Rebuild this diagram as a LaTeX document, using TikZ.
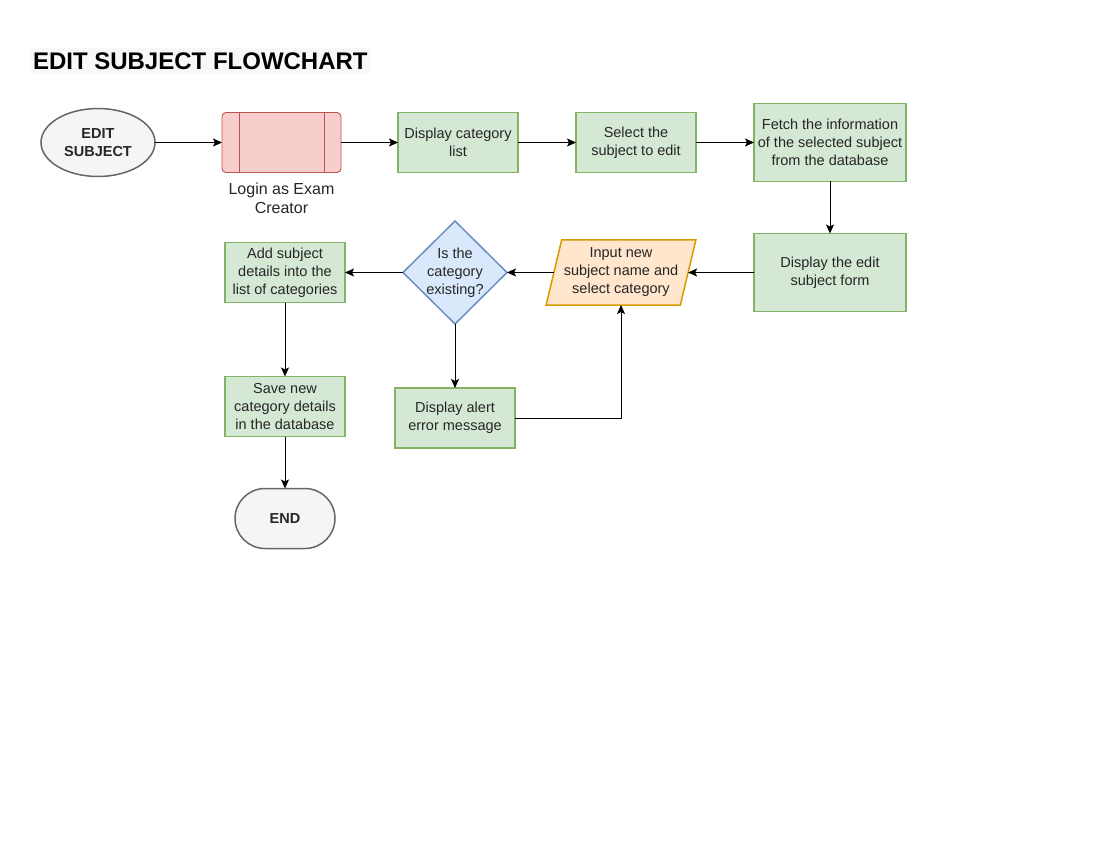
\documentclass[tikz,border=0pt]{standalone}
\usepackage{fontspec}
\setmainfont{Liberation Sans}
\usetikzlibrary{positioning,shapes.geometric,arrows.meta}

\definecolor{greenfill}{HTML}{D5E8D4}
\definecolor{greenline}{HTML}{82B366}
\definecolor{redfill}{HTML}{F8CECC}
\definecolor{redline}{HTML}{B85450}
\definecolor{orangefill}{HTML}{FFE6CC}
\definecolor{orangeline}{HTML}{D79B00}
\definecolor{bluefill}{HTML}{DAE8FC}
\definecolor{blueline}{HTML}{6C8EBF}
\definecolor{grayfill}{HTML}{F5F5F5}
\definecolor{grayline}{HTML}{666666}
\definecolor{titlefill}{HTML}{F7F8F9}

\tikzset{
  txt/.style={font=\fontsize{14.5}{18}\selectfont, text=black!85, align=center},
  terminal/.style={txt, ellipse, draw=grayline, fill=grayfill, line width=1.5pt,
    minimum width=114pt, minimum height=68pt, inner sep=0pt, font=\fontsize{14.5}{18}\selectfont\bfseries},
  endbox/.style={txt, rectangle, rounded corners=30pt, draw=grayline, fill=grayfill, line width=1.5pt,
    minimum width=100pt, minimum height=60pt, font=\fontsize{14.5}{18}\selectfont\bfseries},
  procbox/.style={txt, rectangle, draw=greenline, fill=greenfill, line width=1.5pt,
    minimum width=120pt, minimum height=60pt, inner sep=1pt},
  loginbox/.style={rectangle, rounded corners=4pt, draw=redline, fill=redfill, line width=0.9pt,
    minimum width=119pt, minimum height=60pt},
  iobox/.style={txt, trapezium, trapezium left angle=73, trapezium right angle=107,
    trapezium stretches=true, draw=orangeline, fill=orangefill, line width=1.5pt,
    minimum width=150pt, minimum height=65pt, inner sep=0pt},
  decision/.style={txt, diamond, aspect=1, draw=blueline, fill=bluefill, line width=1.5pt,
    minimum width=104pt, minimum height=103pt, inner sep=-3pt},
  arrow/.style={-{Stealth[length=9pt,width=8pt,inset=2pt]}, line width=0.9pt, black},
  every node/.style={outer sep=0pt}
}

\begin{document}
\begin{tikzpicture}[x=1pt,y=-1pt]
\useasboundingbox (0,0) rectangle (1100,850);

% title
\node (title) [anchor=west, fill=titlefill, minimum height=26pt, inner xsep=2pt,
  font=\fontsize{24}{28}\selectfont\bfseries] at (31,61) {EDIT SUBJECT FLOWCHART};

% top row
\node (start) [terminal] at (98,142.5) {EDIT\\SUBJECT};
\node (login) [loginbox, right=67pt of start] {};
\node (loginlbl) [txt, below=10pt of login, inner sep=0pt,
  font=\fontsize{16}{19}\selectfont] {Login as Exam\\Creator};
\node (cat) [procbox, right=57pt of login] {Display category\\list};
\node (select) [procbox, right=58pt of cat] {Select the\\subject to edit};
\node (fetch) [procbox, right=58pt of select, minimum width=152pt, minimum height=78pt]
  {Fetch the information\\of the selected subject\\from the database};

% middle row
\node (form) [procbox, below=52pt of fetch, minimum width=152pt, minimum height=78pt]
  {Display the edit\\subject form};
\node (input) [iobox] at (621,272.5) {Input new\\subject name and\\select category};
\node (check) [decision] at (455,272.5) {Is the\\category\\existing?};
\node (add) [procbox] at (285,272.5) {Add subject\\details into the\\list of categories};
\node (alert) [procbox, below=64pt of check] {Display alert\\error message};

% left column
\node (save) [procbox, below=74pt of add] {Save new\\category details\\in the database};
\node (stop) [endbox, below=52pt of save] {END};

% process bars
\draw[redline, line width=0.9pt] ([xshift=17pt]login.north west) -- ([xshift=17pt]login.south west);
\draw[redline, line width=0.9pt] ([xshift=-17pt]login.north east) -- ([xshift=-17pt]login.south east);

% connectors
\draw[arrow] (start) -- (login);
\draw[arrow] (login) -- (cat);
\draw[arrow] (cat) -- (select);
\draw[arrow] (select) -- (fetch);
\draw[arrow] (fetch) -- (form);
\draw[arrow] (form) -- (input);
\draw[arrow] (input) -- (check);
\draw[arrow] (check) -- (add);
\draw[arrow] (check) -- (alert);
\draw[arrow] (alert.east) -| (input.south);
\draw[arrow] (add) -- (save);
\draw[arrow] (save) -- (stop);
\end{tikzpicture}
\end{document}
